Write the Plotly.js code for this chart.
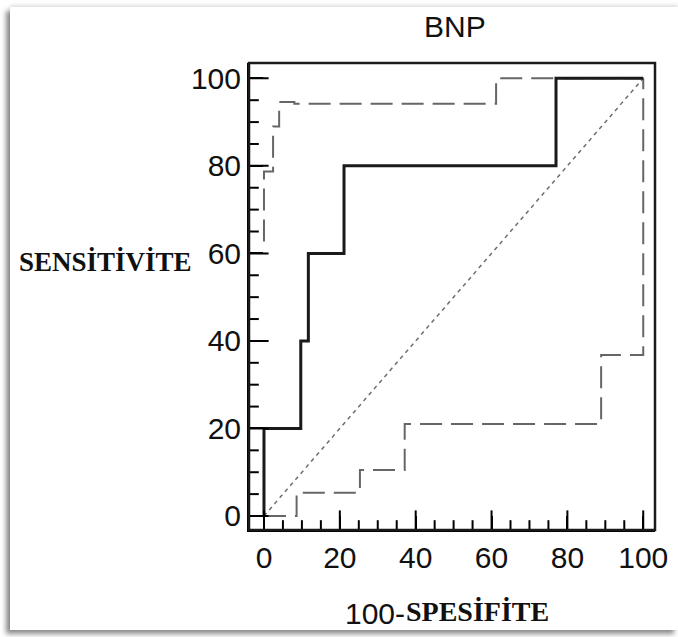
<!DOCTYPE html>
<html>
<head>
<meta charset="utf-8">
<script src="https://cdn.plot.ly/plotly-3.0.1.min.js"></script>
<style>
  html, body { margin: 0; padding: 0; background: #ffffff; width: 678px; height: 637px; overflow: hidden; }
  #chart { position: absolute; left: 10px; top: 7px; width: 668px; height: 623px; background: #fff;
           box-shadow: -4px 4px 5px rgba(0,0,0,0.45), 0 -2px 4px rgba(0,0,0,0.12); }
</style>
</head>
<body>
<div id="chart"></div>
<script>
// ROC curve (100-specificity, sensitivity)
const rocFpr = [0, 0, 9.7, 9.7, 11.7, 11.7, 21.1, 21.1, 77.0, 77.0, 100];
const rocTpr = [0, 20, 20, 40, 40, 60, 60, 80, 80, 100, 100];

// Upper 95% confidence bound
const upperFpr = [0, 0, 2.4, 2.4, 4.0, 4.0, 8.0, 8.0, 61.2, 61.2, 100];
const upperTpr = [62.7, 78.7, 78.7, 89.0, 89.0, 94.6, 94.6, 94.2, 94.2, 100, 100];

// Lower 95% confidence bound
const lowerFpr = [0, 8.6, 8.6, 25.3, 25.3, 37.1, 37.1, 88.9, 88.9, 100, 100];
const lowerTpr = [0, 0, 5.3, 5.3, 10.5, 10.5, 21.0, 21.0, 36.8, 36.8, 100];

// Reference (chance) line
const refX = [0, 100];
const refY = [0, 100];

// Axis tick positions
const majorTicks = [0, 20, 40, 60, 80, 100];
const minorTicks = [5, 10, 15, 25, 30, 35, 45, 50, 55, 65, 70, 75, 85, 90, 95];

const xRange = [-3.95, 103.1];
const yRange = [-3.2, 103.5];

const titleText = 'BNP';
const yLabel = 'SENSİTİVİTE';
const xLabelNum = '100-';
const xLabelWord = 'SPESİFİTE';

function tickTrace(xs, ys, symbol, size) {
  return { x: xs, y: ys, mode: 'markers', cliponaxis: true, hoverinfo: 'skip',
           marker: { symbol: symbol, size: size, color: '#000', line: { width: 2, color: '#000' } } };
}

const traces = [
  { x: refX, y: refY, mode: 'lines', line: { color: '#6e6e6e', width: 1.5, dash: '4px,4px' } },
  { x: upperFpr, y: upperTpr, mode: 'lines', line: { color: '#666666', width: 2, dash: '22px,9px' } },
  { x: lowerFpr, y: lowerTpr, mode: 'lines', line: { color: '#666666', width: 2, dash: '22px,9px' } },
  { x: rocFpr, y: rocTpr, mode: 'lines', line: { color: '#1a1a1a', width: 3 } },
  // inward tick marks along the left and bottom axes (clipped to the plot area)
  tickTrace(majorTicks.map(() => xRange[0]), majorTicks, 'line-ew', 28),
  tickTrace(minorTicks.map(() => xRange[0]), minorTicks, 'line-ew', 14),
  tickTrace(majorTicks, majorTicks.map(() => yRange[0]), 'line-ns', 28),
  tickTrace(minorTicks, minorTicks.map(() => yRange[0]), 'line-ns', 14)
];

const tickFont = { family: 'Liberation Sans, Arial, sans-serif', size: 30, color: '#111' };

const layout = {
  width: 668, height: 623,
  margin: { l: 239, r: 23, t: 56, b: 100 },
  showlegend: false,
  title: { text: titleText, x: 0.507, xref: 'paper', xanchor: 'center', y: 0.968, yref: 'container', yanchor: 'middle',
           font: { family: 'Liberation Sans, Arial, sans-serif', size: 30, color: '#111' } },
  xaxis: {
    range: xRange, showgrid: false, zeroline: false,
    showline: true, linecolor: '#000', linewidth: 2,
    ticks: 'inside', ticklen: 14, tickwidth: 2, tickcolor: '#000',
    tickvals: majorTicks, ticktext: majorTicks.map(String),
    tickfont: tickFont
  },
  yaxis: {
    range: yRange, showgrid: false, zeroline: false,
    showline: true, linecolor: '#000', linewidth: 2,
    ticks: 'inside', ticklen: 14, tickwidth: 2, tickcolor: '#000',
    tickvals: majorTicks, ticktext: majorTicks.map(String),
    tickfont: tickFont
  },
  shapes: [
    { type: 'rect', xref: 'paper', yref: 'paper', x0: 0, x1: 1, y0: 0, y1: 1, line: { color: '#1a1a1a', width: 2.5 } }
  ],
  annotations: [
    { text: yLabel, xref: 'paper', yref: 'y', x: -0.572, y: 58, xanchor: 'left', yanchor: 'middle', showarrow: false,
      font: { family: 'Liberation Serif, serif', size: 27, color: '#111', weight: 'bold' } },
    { text: xLabelNum, xref: 'paper', yref: 'paper', x: 0.39, y: -0.178, xanchor: 'right', yanchor: 'middle', showarrow: false,
      font: { family: 'Liberation Sans, sans-serif', size: 30, color: '#111', weight: 'normal' } },
    { text: xLabelWord, xref: 'paper', yref: 'paper', x: 0.382, y: -0.174, xanchor: 'left', yanchor: 'middle', showarrow: false,
      font: { family: 'Liberation Serif, serif', size: 28, color: '#111', weight: 'bold' } }
  ]
};

Plotly.newPlot('chart', traces, layout, { displayModeBar: false });
</script>
</body>
</html>
